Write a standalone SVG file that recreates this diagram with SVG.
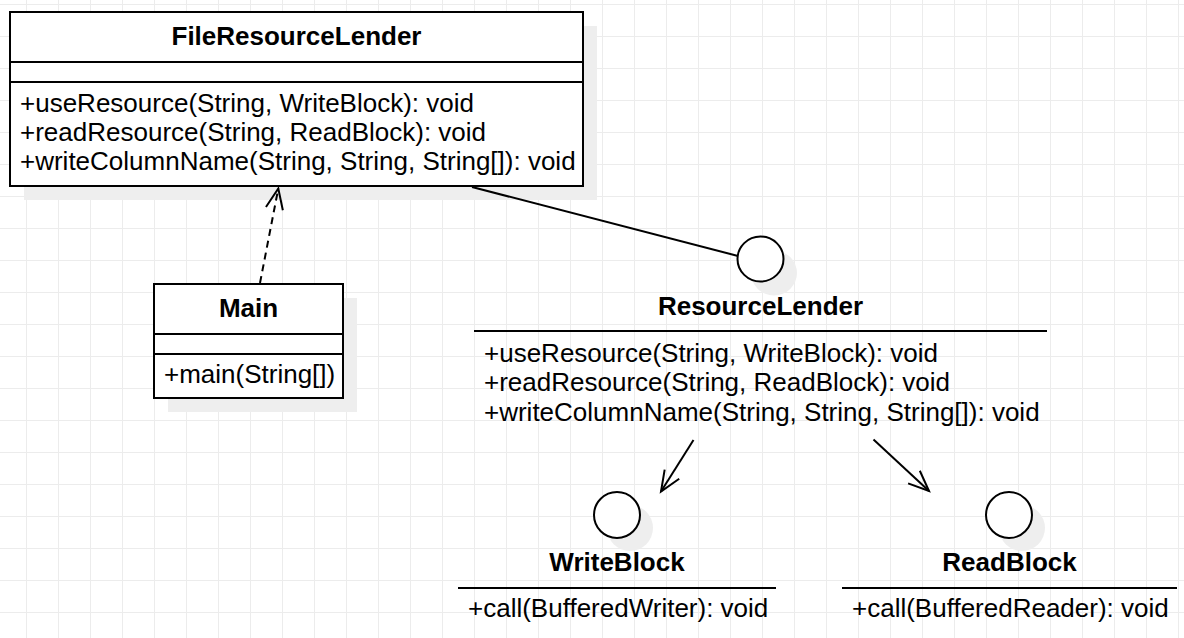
<svg xmlns="http://www.w3.org/2000/svg" width="1184" height="638" viewBox="0 0 1184 638">
<style>
  .t { font-family: "Liberation Sans", Arial, sans-serif; font-size: 26px; fill: #000; }
  .b { font-weight: bold; text-anchor: middle; }
  .box { fill: #fff; stroke: #000; stroke-width: 2; }
  .shadow { fill: #eeeeee; stroke: none; }
  .sep { stroke: #000; stroke-width: 2; fill: none; }
  .conn { stroke: #000; stroke-width: 2; fill: none; }
</style>
<defs>
  <pattern id="grid" x="26" y="4" width="32" height="32" patternUnits="userSpaceOnUse">
    <path d="M0,0.5 H32 M0.5,0 V32" fill="none" stroke="#ececec" stroke-width="1"/>
  </pattern>
  <marker id="open" viewBox="-26 -12 30 24" refX="0" refY="0" markerWidth="30" markerHeight="24" markerUnits="userSpaceOnUse" orient="auto">
    <path d="M-20.5,-8.6 L0,0 L-20.5,8.6" fill="none" stroke="#000" stroke-width="2" stroke-dasharray="none"/>
  </marker>
</defs>
<rect width="1184" height="638" fill="#fff"/>
<rect width="1184" height="638" fill="url(#grid)"/>

<g id="FileResourceLender">
  <rect class="shadow" x="24" y="26" width="573" height="174"/>
  <rect class="box" x="10" y="12" width="573" height="174"/>
  <line class="sep" x1="10" y1="62" x2="583" y2="62"/>
  <line class="sep" x1="10" y1="82" x2="583" y2="82"/>
  <text class="t b" x="296.5" y="45">FileResourceLender</text>
  <text class="t" x="20" y="111.5">+useResource(String, WriteBlock): void</text>
  <text class="t" x="20" y="140.5">+readResource(String, ReadBlock): void</text>
  <text class="t" x="20" y="169.5">+writeColumnName(String, String, String[]): void</text>
</g>

<g id="Main">
  <rect class="shadow" x="168" y="298" width="189" height="114"/>
  <rect class="box" x="154" y="284" width="189" height="114"/>
  <line class="sep" x1="154" y1="334" x2="343" y2="334"/>
  <line class="sep" x1="154" y1="354" x2="343" y2="354"/>
  <text class="t b" x="248.5" y="317">Main</text>
  <text class="t" x="164" y="383">+main(String[])</text>
</g>

<g id="ResourceLender">
  <ellipse class="shadow" cx="774" cy="273" rx="23" ry="22.5"/>
  <ellipse class="box" cx="760.5" cy="259" rx="23" ry="22.5"/>
  <text class="t b" x="760.5" y="315">ResourceLender</text>
  <line class="sep" x1="474" y1="331" x2="1047" y2="331"/>
  <text class="t" x="484" y="361.5">+useResource(String, WriteBlock): void</text>
  <text class="t" x="484" y="391">+readResource(String, ReadBlock): void</text>
  <text class="t" x="484" y="420.5">+writeColumnName(String, String, String[]): void</text>
</g>

<g id="WriteBlock">
  <ellipse class="shadow" cx="630" cy="528" rx="23" ry="23"/>
  <ellipse class="box" cx="617" cy="515" rx="23" ry="23"/>
  <text class="t b" x="617" y="571">WriteBlock</text>
  <line class="sep" x1="458" y1="588" x2="776" y2="588"/>
  <text class="t" x="468" y="617">+call(BufferedWriter): void</text>
</g>

<g id="ReadBlock">
  <ellipse class="shadow" cx="1022" cy="528" rx="23" ry="23"/>
  <ellipse class="box" cx="1009" cy="515" rx="23" ry="23"/>
  <text class="t b" x="1009.5" y="571">ReadBlock</text>
  <line class="sep" x1="842" y1="588" x2="1177" y2="588"/>
  <text class="t" x="852" y="617">+call(BufferedReader): void</text>
</g>

<g id="connectors">
  <path class="conn" d="M260,283 L278.3,188.5" stroke-dasharray="7 5" marker-end="url(#open)"/>
  <path class="conn" d="M472,187 L738,256"/>
  <path class="conn" d="M693.5,440 L661,491.5" marker-end="url(#open)"/>
  <path class="conn" d="M873.5,439.5 L929,491" marker-end="url(#open)"/>
</g>
</svg>
